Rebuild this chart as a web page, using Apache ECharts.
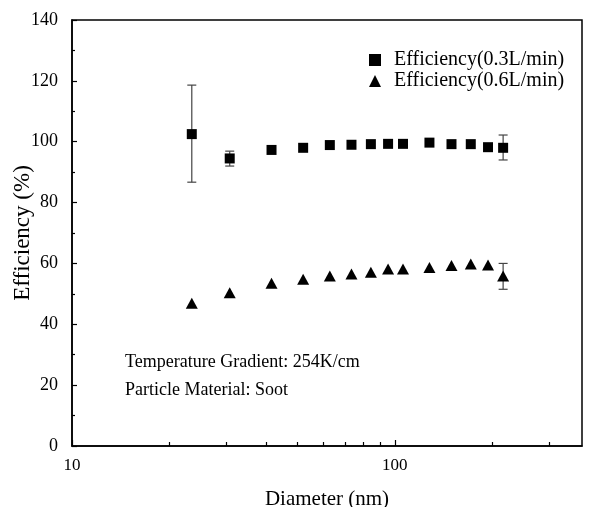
<!DOCTYPE html>
<html>
<head>
<meta charset="utf-8">
<script src="https://cdn.jsdelivr.net/npm/echarts@6/dist/echarts.min.js"></script>
<style>html,body{margin:0;padding:0;background:#fff;}#c{width:595px;height:507px;}</style>
</head>
<body>
<div id="c"></div>
<script>
// Data
const diameters = [23.5, 30.8, 41.5, 52, 62.9, 73.4, 84.3, 95.3, 106, 128, 149.8, 171.9, 194.4, 216.5];
const eff03 = [102.5, 94.5, 97.3, 98.0, 98.9, 99.0, 99.2, 99.3, 99.3, 99.7, 99.2, 99.2, 98.2, 98.0];
const eff06 = [46.9, 50.4, 53.5, 54.8, 55.9, 56.5, 57.1, 58.2, 58.2, 58.7, 59.3, 59.8, 59.5, 55.9];
// error bars: point index, low, high
const err03Idx = [0, 1, 13];
const err03Low = [86.7, 92.0, 94.0];
const err03High = [118.6, 96.9, 102.2];
const err06Idx = [13];
const err06Low = [51.5];
const err06High = [60.0];
// axis ticks
const xMajorTicks = [10, 100];
const xMinorTicks = [20, 30, 40, 50, 60, 70, 80, 90, 200, 300];
const xLabels = [10, 100];
const seriesNames = ['Efficiency(0.3L/min)', 'Efficiency(0.6L/min)'];
const notes = ['Temperature Gradient: 254K/cm', 'Particle Material: Soot'];

const FONT = '"Liberation Serif", "Times New Roman", serif';

function errData(idx, low, high) {
  return idx.map((k, i) => [diameters[k], low[i], high[i]]);
}
function errRender(params, api) {
  const x = api.value(0);
  const lo = api.coord([x, api.value(1)]);
  const hi = api.coord([x, api.value(2)]);
  const w = 4.5;
  const style = { stroke: '#444', lineWidth: 1.2 };
  return {
    type: 'group',
    children: [
      { type: 'line', shape: { x1: lo[0], y1: lo[1], x2: hi[0], y2: hi[1] }, style },
      { type: 'line', shape: { x1: hi[0] - w, y1: hi[1], x2: hi[0] + w, y2: hi[1] }, style },
      { type: 'line', shape: { x1: lo[0] - w, y1: lo[1], x2: lo[0] + w, y2: lo[1] }, style }
    ]
  };
}

const chart = echarts.init(document.getElementById('c'), null, { renderer: 'canvas' });
chart.setOption({
  animation: false,
  backgroundColor: '#fff',
  textStyle: { fontFamily: FONT, color: '#000' },
  grid: { left: 72, top: 20, right: 13, bottom: 61, show: true, borderColor: '#000', borderWidth: 1.5,
          containLabel: false, outerBoundsMode: 'none' },
  legend: {
    orient: 'vertical', left: 364, top: 45, itemGap: 1, itemWidth: 12, itemHeight: 12,
    textStyle: { fontFamily: FONT, fontSize: 20, color: '#000', padding: [0, 0, 0, 8] },
    data: [{ name: seriesNames[0], icon: 'rect' }, { name: seriesNames[1], icon: 'triangle' }]
  },
  xAxis: [{
    type: 'log', logBase: 10, min: 10, max: 380,
    name: 'Diameter (nm)', nameLocation: 'middle', nameGap: 43, nameMoveOverlap: false,
    nameTextStyle: { fontFamily: FONT, fontSize: 21, color: '#000' },
    axisLine: { lineStyle: { color: '#000', width: 1.5 } },
    axisTick: { inside: true, length: 6, lineStyle: { color: '#000', width: 1.2 }, customValues: xMajorTicks },
    axisLabel: { customValues: xLabels, fontFamily: FONT, fontSize: 17, color: '#000', margin: 11 },
    splitLine: { show: false }, minorTick: { show: false }
  }, {
    type: 'log', logBase: 10, min: 10, max: 380, position: 'bottom',
    axisLine: { show: false },
    axisTick: { inside: true, length: 4, lineStyle: { color: '#000', width: 1.2 }, customValues: xMinorTicks },
    axisLabel: { show: false }, splitLine: { show: false }
  }],
  yAxis: {
    type: 'value', min: 0, max: 140, interval: 20,
    name: 'Efficiency (%)', nameLocation: 'middle', nameGap: 38, nameMoveOverlap: false,
    nameTextStyle: { fontFamily: FONT, fontSize: 23, color: '#000' },
    axisLine: { show: true, lineStyle: { color: '#000', width: 1.5 } },
    axisTick: { inside: true, length: 5, lineStyle: { color: '#000', width: 1.2 } },
    minorTick: { show: true, splitNumber: 2, length: 3, lineStyle: { color: '#000', width: 1.2 } },
    axisLabel: { fontFamily: FONT, fontSize: 18, color: '#000', margin: 14 },
    splitLine: { show: false }
  },
  graphic: [
    { type: 'text', left: 125, top: 353, style: { text: notes[0], fontFamily: FONT, fontSize: 18, fill: '#000' } },
    { type: 'text', left: 125, top: 381, style: { text: notes[1], fontFamily: FONT, fontSize: 18, fill: '#000' } }
  ],
  series: [
    { type: 'custom', name: 'err03', xAxisIndex: 0, renderItem: errRender, data: errData(err03Idx, err03Low, err03High), z: 1, silent: true },
    { type: 'custom', name: 'err06', xAxisIndex: 0, renderItem: errRender, data: errData(err06Idx, err06Low, err06High), z: 1, silent: true },
    { type: 'scatter', name: seriesNames[0], xAxisIndex: 0, symbol: 'rect', symbolSize: 10,
      itemStyle: { color: '#000', opacity: 1 }, data: diameters.map((d, i) => [d, eff03[i]]), z: 3 },
    { type: 'scatter', name: seriesNames[1], xAxisIndex: 0, symbol: 'triangle', symbolSize: [12, 11],
      itemStyle: { color: '#000', opacity: 1 }, data: diameters.map((d, i) => [d, eff06[i]]), z: 3 }
  ]
});
</script>
</body>
</html>
